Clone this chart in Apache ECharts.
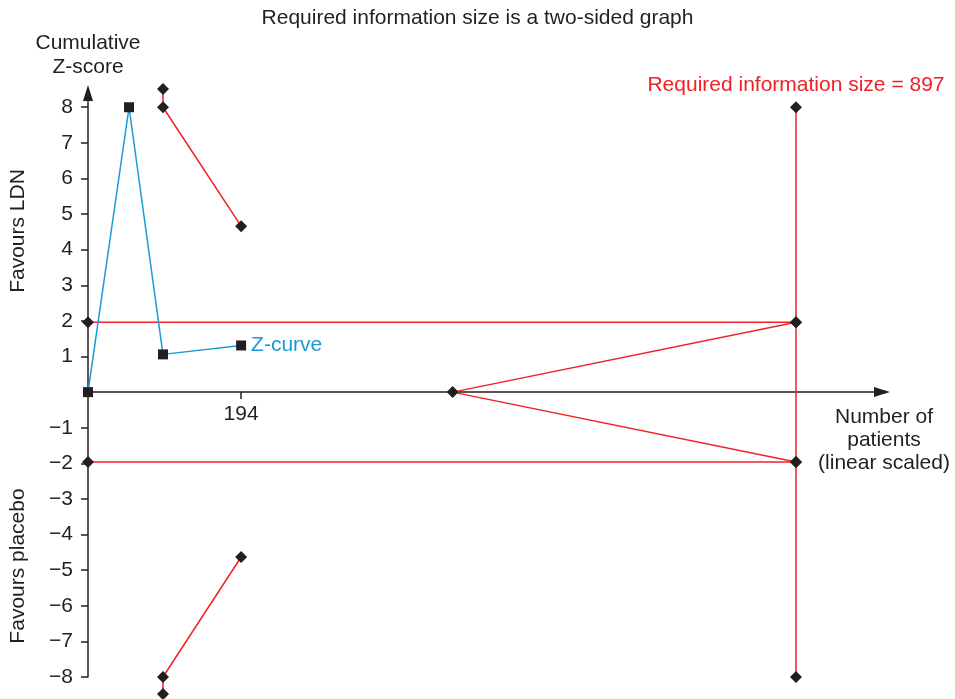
<!DOCTYPE html>
<html>
<head>
<meta charset="utf-8">
<title>Trial sequential analysis</title>
<script src="https://cdn.jsdelivr.net/npm/echarts@6/dist/echarts.min.js"></script>
<style>
  html, body { margin: 0; padding: 0; background: #fff; }
  #tsa { width: 955px; height: 699px; }
</style>
</head>
<body>
<div id="tsa"></div>
<script>
//*******************************    data start   *******************************
// cumulative Z-curve  [patients, z]
var zCurve = [[0, 0], [52, 8.0], [95, 1.06], [194, 1.31]];

// monitoring boundaries (favours LDN / favours placebo)
var upperBoundary = [[95, 8.51], [95, 8.0], [194, 4.66]];
var lowerBoundary = [[95, -8.48], [95, -8.0], [194, -4.63]];

// conventional significance lines z = +/-1.96
var upperConventional = [[0, 1.96], [897, 1.96]];
var lowerConventional = [[0, -1.96], [897, -1.96]];

// futility wedge
var futility = [[897, 1.96], [462, 0], [897, -1.96]];

// required information size
var requiredSize = 897;
var risLine = [[requiredSize, 8], [requiredSize, -8]];

// tick labels
var yTicks = [-8, -7, -6, -5, -4, -3, -2, -1, 1, 2, 3, 4, 5, 6, 7, 8];
var xTicks = [194];
//*******************************    data end   *******************************

var RED = '#ee2127';
var BLUE = '#1b9ad6';
var INK = '#231f20';
var FONT = '"Liberation Sans", Arial, sans-serif';
var FS = 21;

// y range of the plot, x axis sits on z = 0
var yMin = -8, yMax = 8.4;
var gridTop = 93, gridBottom = 22;
var plotH = 699 - gridTop - gridBottom;
var zeroOffset = -plotH * (0 - yMin) / (yMax - yMin);

var tsaChart = echarts.init(document.getElementById('tsa'));

// red boundary lines with black diamonds
function redLine(data, extra) {
    var s = {
        type: 'line',
        data: data,
        clip: false,
        symbol: 'diamond',
        symbolSize: 12,
        showAllSymbol: true,
        lineStyle: { color: RED, width: 1.5 },
        itemStyle: { color: INK },
        z: 3,
        silent: true
    };
    if (extra) {
        for (var k in extra) s[k] = extra[k];
    }
    return s;
}

var option = {
    animation: false,
    backgroundColor: '#fff',
    textStyle: { fontFamily: FONT },
    title: {
        text: 'Required information size is a two-sided graph',
        left: 'center',
        top: 3,
        textStyle: { fontFamily: FONT, fontSize: FS, fontWeight: 'normal', color: INK }
    },
    grid: { left: 88, right: 73, top: gridTop, bottom: gridBottom, containLabel: false, outerBoundsMode: 'none' },
    xAxis: {
        type: 'value',
        min: 0,
        max: 1006,
        position: 'bottom',
        offset: zeroOffset,
        name: 'Number of\npatients\n(linear scaled)',
        nameLocation: 'end',
        nameGap: 2,
        nameTextStyle: {
            fontFamily: FONT, fontSize: FS, color: INK, lineHeight: 23,
            align: 'center', verticalAlign: 'top', padding: [14, 0, 0, 0]
        },
        axisLine: {
            onZero: false,
            symbol: ['none', 'triangle'],
            symbolSize: [10, 16],
            lineStyle: { color: INK, width: 1.5 }
        },
        axisTick: { show: true, length: 7, customValues: xTicks, lineStyle: { color: INK, width: 1.5 } },
        axisLabel: { customValues: xTicks, color: INK, fontSize: FS, margin: 12, fontFamily: FONT },
        splitLine: { show: false }
    },
    yAxis: {
        type: 'value',
        min: yMin,
        max: yMax,
        name: 'Cumulative\nZ-score',
        nameLocation: 'end',
        nameGap: 14,
        nameTextStyle: { fontFamily: FONT, fontSize: FS, color: INK, lineHeight: 24, align: 'center' },
        axisLine: {
            show: true,
            symbol: ['none', 'triangle'],
            symbolSize: [10, 16],
            lineStyle: { color: INK, width: 1.5 }
        },
        axisTick: { show: true, length: 7, customValues: yTicks, lineStyle: { color: INK, width: 1.5 } },
        axisLabel: {
            customValues: yTicks,
            color: INK,
            fontSize: FS,
            margin: 15,
            fontFamily: FONT,
            formatter: function (v) {
                return v < 0 ? '\u2212' + Math.abs(v) : String(v);
            }
        },
        splitLine: { show: false }
    },
    graphic: [
        {
            type: 'text', x: 18, y: 231, rotation: Math.PI / 2,
            style: { text: 'Favours LDN', fill: INK, font: FS + 'px ' + FONT, align: 'center', verticalAlign: 'middle' }
        },
        {
            type: 'text', x: 18, y: 566, rotation: Math.PI / 2,
            style: { text: 'Favours placebo', fill: INK, font: FS + 'px ' + FONT, align: 'center', verticalAlign: 'middle' }
        }
    ],
    series: [
        redLine(upperConventional),
        redLine(lowerConventional),
        redLine(futility),
        redLine(upperBoundary),
        redLine(lowerBoundary),
        redLine(risLine, {
            label: {
                show: true,
                position: 'top',
                distance: 6,
                color: RED,
                fontSize: FS,
                fontFamily: FONT,
                formatter: function (p) {
                    return p.dataIndex === 0 ? 'Required information size = ' + requiredSize : '';
                }
            }
        }),
        {
            type: 'line',
            data: zCurve,
            clip: false,
            symbol: 'rect',
            symbolSize: 10,
            showAllSymbol: true,
            lineStyle: { color: BLUE, width: 1.5 },
            itemStyle: { color: INK },
            z: 4,
            silent: true,
            endLabel: {
                show: true,
                formatter: 'Z-curve',
                color: BLUE,
                fontSize: FS,
                fontFamily: FONT,
                distance: 10
            }
        }
    ]
};

tsaChart.setOption(option);
</script>
</body>
</html>
